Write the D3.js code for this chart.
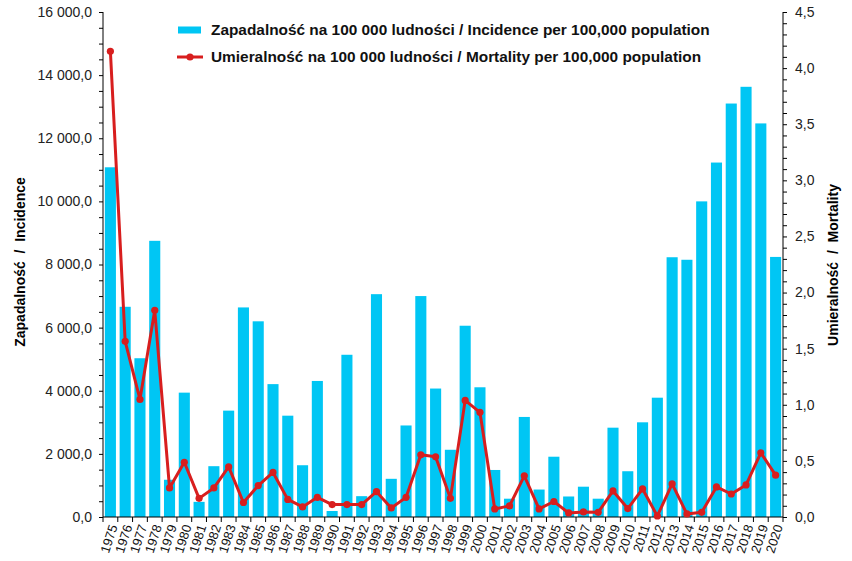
<!DOCTYPE html>
<html><head><meta charset="utf-8">
<script src="https://cdn.jsdelivr.net/npm/d3@7/dist/d3.min.js"></script>
<style>
html,body{margin:0;padding:0;background:#fff;}
svg{display:block;font-family:"Liberation Sans",Arial,sans-serif;}
</style></head>
<body>
<svg id="chart" width="852" height="561"></svg>
<script>
const years = d3.range(1975, 2021).map(String);
const incidence = [11080,6660,5030,8750,1180,3940,480,1610,3370,6640,6200,4210,3210,1640,4310,190,5140,660,7060,1210,2900,7000,4070,2130,6060,4110,1490,580,3170,870,1910,650,960,580,2830,1450,3000,3780,8230,8150,10000,11230,13100,13630,12470,8240];
const mortality = [4.15,1.565,1.048,1.842,0.259,0.488,0.166,0.259,0.446,0.129,0.28,0.397,0.157,0.09,0.175,0.111,0.111,0.111,0.226,0.081,0.175,0.554,0.536,0.166,1.039,0.933,0.072,0.099,0.367,0.072,0.138,0.036,0.045,0.042,0.232,0.075,0.25,0.009,0.295,0.027,0.042,0.268,0.205,0.286,0.572,0.373];
const leftTicks = d3.range(0, 16001, 2000);
const rightTicks = d3.range(0, 4.51, 0.5);
const legendLabels = ["Zapadalność na 100 000 ludności / Incidence per 100,000 population",
                      "Umieralność na 100 000 ludności / Mortality per 100,000 population"];
const leftTitle = "Zapadalność  /  Incidence";
const rightTitle = "Umieralność  /  Mortality";

const barColor = "#00c6f4", lineColor = "#d81e1e";
const L = 103, R = 783, T = 12, B = 517;
const svg = d3.select("#chart");
const loc = d3.formatLocale({decimal: ",", thousands: "\u00a0", grouping: [3]});
const fmt = loc.format(",.1f");

const x = d3.scaleBand().domain(years).range([L, R]).paddingInner(0.25).paddingOuter(0.125);
const yL = d3.scaleLinear().domain([0, 16000]).range([B, T]);
const yR = d3.scaleLinear().domain([0, 4.5]).range([B, T]);

// bars
svg.append("g").selectAll("rect").data(incidence).join("rect")
  .attr("x", (d, i) => x(years[i])).attr("width", x.bandwidth())
  .attr("y", d => yL(d)).attr("height", d => B - yL(d))
  .attr("fill", barColor);

// left axis
const gL = svg.append("g").attr("transform", `translate(${L},0)`);
gL.call(d3.axisLeft(yL).tickValues(d3.range(0, 16001, 500)).tickSize(4).tickFormat(""));
gL.call(g => g.select(".domain").remove());
gL.append("line").attr("y1", T).attr("y2", B).attr("stroke", "#000");
gL.selectAll(".lbl").data(leftTicks).join("text").attr("class", "lbl")
  .attr("x", -11).attr("y", d => yL(d)).attr("dy", "0.35em").attr("text-anchor", "end")
  .attr("font-size", 14).attr("fill", "#222").text(d => fmt(d));

// right axis
const gR = svg.append("g").attr("transform", `translate(${R},0)`);
gR.call(d3.axisRight(yR).tickValues(d3.range(0, 46).map(v => v / 10)).tickSize(4).tickFormat(""));
gR.call(g => g.select(".domain").remove());
gR.append("line").attr("y1", T).attr("y2", B).attr("stroke", "#000");
gR.selectAll(".lbl").data(rightTicks).join("text").attr("class", "lbl")
  .attr("x", 12).attr("y", d => yR(d)).attr("dy", "0.35em").attr("text-anchor", "start")
  .attr("font-size", 14).attr("fill", "#222").text(d => fmt(d));

// bottom axis
const step = x.step();
const gB = svg.append("g");
gB.append("line").attr("x1", L).attr("x2", R).attr("y1", B).attr("y2", B).attr("stroke", "#000");
gB.selectAll(".tk").data(d3.range(0, years.length + 1)).join("line").attr("class", "tk")
  .attr("x1", i => x(years[0]) - step * x.paddingInner() / 2 + i * step)
  .attr("x2", i => x(years[0]) - step * x.paddingInner() / 2 + i * step)
  .attr("y1", B).attr("y2", B + 5).attr("stroke", "#000");
gB.selectAll(".yl").data(years).join("text").attr("class", "yl")
  .attr("transform", d => `translate(${x(d) + x.bandwidth() / 2 + 3},${B + 8}) rotate(-72)`)
  .attr("text-anchor", "end").attr("dy", "0.35em").attr("font-size", 13).attr("fill", "#111")
  .text(d => d);

// mortality line
const line = d3.line().x((d, i) => x(years[i]) + x.bandwidth() / 2).y(d => yR(d));
svg.append("path").datum(mortality).attr("d", line).attr("fill", "none")
  .attr("stroke", lineColor).attr("stroke-width", 3).attr("stroke-linejoin", "round");
svg.append("g").selectAll("circle").data(mortality).join("circle")
  .attr("cx", (d, i) => x(years[i]) + x.bandwidth() / 2).attr("cy", d => yR(d))
  .attr("r", 3.6).attr("fill", lineColor);

// axis titles
svg.append("text").attr("transform", "translate(25,262) rotate(-90)")
  .attr("text-anchor", "middle").attr("font-size", 14).attr("font-weight", "bold")
  .style("white-space", "pre").text(leftTitle);
svg.append("text").attr("transform", "translate(838,265) rotate(-90)")
  .attr("text-anchor", "middle").attr("font-size", 14).attr("font-weight", "bold")
  .style("white-space", "pre").text(rightTitle);

// legend
const lg = svg.append("g");
lg.append("rect").attr("x", 178).attr("y", 26.5).attr("width", 23).attr("height", 7).attr("fill", barColor);
lg.append("line").attr("x1", 177).attr("x2", 203).attr("y1", 57).attr("y2", 57)
  .attr("stroke", lineColor).attr("stroke-width", 3);
lg.append("circle").attr("cx", 190).attr("cy", 57).attr("r", 3.6).attr("fill", lineColor);
lg.selectAll(".lt").data(legendLabels).join("text").attr("class", "lt")
  .attr("x", 211).attr("y", (d, i) => 29.5 + i * 27).attr("dy", "0.35em")
  .attr("font-size", 15.4).attr("font-weight", "bold").attr("fill", "#111").text(d => d);
</script>
</body></html>
